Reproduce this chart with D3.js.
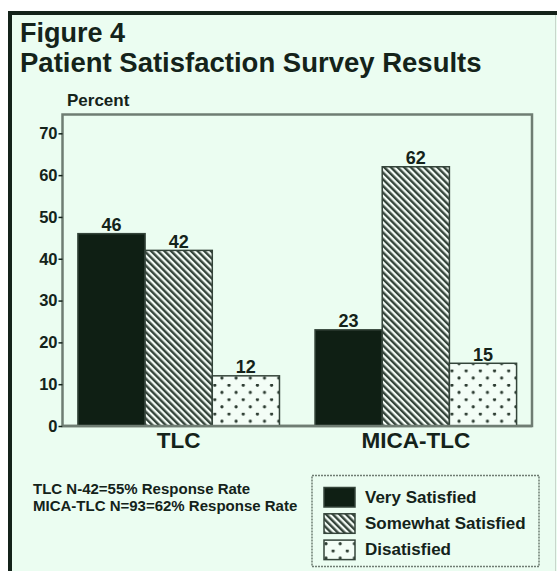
<!DOCTYPE html>
<html>
<head>
<meta charset="utf-8">
<script src="https://cdn.jsdelivr.net/npm/d3@7"></script>
<style>
  html, body { margin: 0; padding: 0; background: #ffffff; }
  svg { display: block; font-family: "Liberation Sans", Arial, Helvetica, sans-serif; font-weight: bold; }
</style>
</head>
<body>
<svg id="chart" width="557" height="571"></svg>
<script>
// Survey data
const groups = ["TLC", "MICA-TLC"];
const seriesNames = ["Very Satisfied", "Somewhat Satisfied", "Disatisfied"];
const tlcValues = [46, 42, 12];
const micaValues = [23, 62, 15];
const yTicks = [0, 10, 20, 30, 40, 50, 60, 70];
const notes = ["TLC N-42=55% Response Rate", "MICA-TLC N=93=62% Response Rate"];

const valuesByGroup = { "TLC": tlcValues, "MICA-TLC": micaValues };

const BG = "#ebfdf1";
const INK = "#14231a";
const FRAME = "#6f7d73";

const svg = d3.select("#chart");

// page background and heavy frame
svg.append("rect").attr("x", 0).attr("y", 0).attr("width", 557).attr("height", 571).attr("fill", "#ffffff");
svg.append("rect").attr("x", 8).attr("y", 11).attr("width", 549).attr("height", 560).attr("fill", BG);
svg.append("line").attr("x1", 8).attr("x2", 557).attr("y1", 13).attr("y2", 13)
  .attr("stroke", INK).attr("stroke-width", 4);
svg.append("line").attr("x1", 10).attr("x2", 10).attr("y1", 11).attr("y2", 571)
  .attr("stroke", INK).attr("stroke-width", 4);
svg.append("line").attr("x1", 555.5).attr("x2", 555.5).attr("y1", 15).attr("y2", 571)
  .attr("stroke", "#c9d6cc").attr("stroke-width", 1);

// fill patterns
const defs = svg.append("defs");
const hatch = defs.append("pattern").attr("id", "hatch")
  .attr("patternUnits", "userSpaceOnUse").attr("width", 4.7).attr("height", 10)
  .attr("patternTransform", "rotate(-45)");
hatch.append("rect").attr("width", 4.7).attr("height", 10).attr("fill", "#f3fbf5");
hatch.append("rect").attr("x", 0).attr("width", 2.4).attr("height", 10).attr("fill", "#34443a");

const dots = defs.append("pattern").attr("id", "dots")
  .attr("patternUnits", "userSpaceOnUse").attr("width", 14.2).attr("height", 14.4)
  .attr("x", 215).attr("y", 384);
dots.append("rect").attr("width", 14.2).attr("height", 14.4).attr("fill", "#f3fdf6");
dots.append("circle").attr("cx", 7.1).attr("cy", 1.2).attr("r", 1.6).attr("fill", "#2c3b31");
dots.append("circle").attr("cx", 0).attr("cy", 8.4).attr("r", 1.6).attr("fill", "#2c3b31");
dots.append("circle").attr("cx", 14.2).attr("cy", 8.4).attr("r", 1.6).attr("fill", "#2c3b31");

const fills = ["#0f1f14", "url(#hatch)", "url(#dots)"];

// titles
svg.append("text").attr("x", 20).attr("y", 42).attr("font-size", 27).attr("fill", INK).text("Figure 4");
svg.append("text").attr("x", 20).attr("y", 72).attr("font-size", 27.5).attr("fill", INK)
  .text("Patient Satisfaction Survey Results");
svg.append("text").attr("x", 67).attr("y", 106).attr("font-size", 17).attr("fill", INK).text("Percent");

// plot area
const plot = { left: 62.5, right: 532, top: 114.5, bottom: 426 };

const y = d3.scaleLinear().domain([0, 74.5]).range([plot.bottom, plot.top]);
const x0 = d3.scaleBand().domain(groups).range([plot.left, plot.right])
  .paddingInner(0.15).paddingOuter(0.065);
const x1 = d3.scaleBand().domain(seriesNames).range([0, x0.bandwidth()]).padding(0);

// frame of the plot
svg.append("rect")
  .attr("x", plot.left).attr("y", plot.top)
  .attr("width", plot.right - plot.left).attr("height", plot.bottom - plot.top)
  .attr("fill", "none").attr("stroke", FRAME).attr("stroke-width", 2.5);

// bars
const gGroups = svg.selectAll("g.group").data(groups).join("g")
  .attr("class", "group")
  .attr("transform", d => `translate(${x0(d)},0)`);

gGroups.selectAll("rect").data(g => valuesByGroup[g].map((v, i) => ({ name: seriesNames[i], value: v, i })))
  .join("rect")
  .attr("x", d => x1(d.name))
  .attr("y", d => y(d.value))
  .attr("width", x1.bandwidth())
  .attr("height", d => y(0) - y(d.value))
  .attr("fill", d => fills[d.i])
  .attr("stroke", "#34443a").attr("stroke-width", 1.5);

gGroups.selectAll("text.val").data(g => valuesByGroup[g].map((v, i) => ({ name: seriesNames[i], value: v })))
  .join("text")
  .attr("class", "val")
  .attr("x", d => x1(d.name) + x1.bandwidth() / 2)
  .attr("y", d => y(d.value) - 2.5)
  .attr("text-anchor", "middle")
  .attr("font-size", 18).attr("fill", INK)
  .text(d => d.value);

// y axis
const yAxis = d3.axisLeft(y).tickValues(yTicks).tickSize(4).tickPadding(1).tickFormat(d3.format("d"));
const gy = svg.append("g").attr("transform", `translate(${plot.left},0)`).call(yAxis);
gy.select(".domain").remove();
gy.selectAll(".tick line").attr("stroke", INK).attr("stroke-width", 1.5);
gy.selectAll(".tick text").attr("font-size", 16.5).attr("font-family", "Liberation Sans, Arial, sans-serif")
  .attr("font-weight", "bold").attr("fill", INK);

// bottom axis line
svg.append("line").attr("x1", plot.left).attr("x2", plot.right)
  .attr("y1", plot.bottom).attr("y2", plot.bottom)
  .attr("stroke", FRAME).attr("stroke-width", 2.5);

// category labels
svg.selectAll("text.cat").data(groups).join("text")
  .attr("class", "cat")
  .attr("x", d => x0(d) + x0.bandwidth() / 2)
  .attr("y", 448)
  .attr("text-anchor", "middle")
  .attr("font-size", 22.5).attr("fill", INK)
  .text(d => d);

// response-rate notes
svg.selectAll("text.note").data(notes).join("text")
  .attr("class", "note")
  .attr("x", 33)
  .attr("y", (d, i) => 494 + i * 17)
  .attr("font-size", 15).attr("fill", INK)
  .text(d => d);

// legend
const legend = svg.append("g");
legend.append("rect").attr("x", 312).attr("y", 475.5).attr("width", 227).attr("height", 91)
  .attr("fill", "none").attr("stroke", FRAME).attr("stroke-width", 1.5).attr("stroke-dasharray", "2,1");
const items = legend.selectAll("g.item").data(seriesNames).join("g")
  .attr("class", "item")
  .attr("transform", (d, i) => `translate(324,${487.5 + i * 26.3})`);
items.append("rect").attr("width", 31).attr("height", 19.5)
  .attr("fill", (d, i) => fills[i]).attr("stroke", "#34443a").attr("stroke-width", 1.5);
items.append("text").attr("x", 41).attr("y", 15).attr("font-size", 17).attr("fill", INK).text(d => d);
</script>
</body>
</html>
